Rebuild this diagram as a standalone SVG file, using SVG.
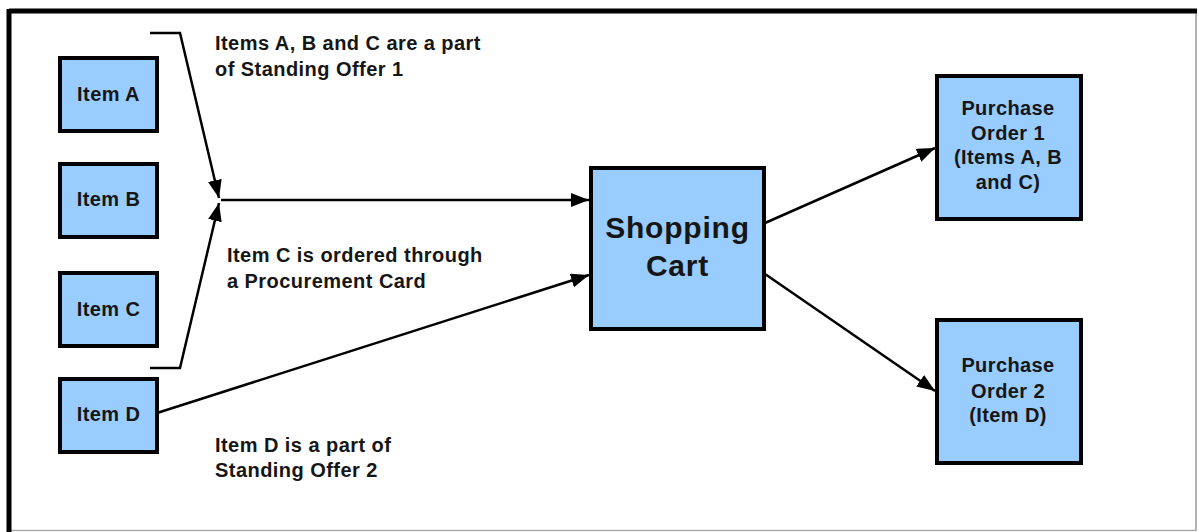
<svg xmlns="http://www.w3.org/2000/svg" width="1199" height="532" viewBox="0 0 1199 532">
<style>
.box{fill:#99ccff;stroke:#000;stroke-width:4}
.t{font-family:"Liberation Sans",Arial,sans-serif;font-weight:bold;fill:#161616;}
.nt{font-size:20px;text-anchor:middle;letter-spacing:0.4px}
.ann{font-size:20px;letter-spacing:0.45px}
.cn{fill:none;stroke:#000;stroke-width:2.5}
</style>
<defs>
<marker id="ah" markerUnits="userSpaceOnUse" markerWidth="20" markerHeight="16" refX="18" refY="7" orient="auto">
<path d="M0,0 L18,7 L0,14 Z" fill="#000"/>
</marker>
</defs>
<rect width="1199" height="532" fill="#fff"/>
<g id="frame">
<line x1="1196" y1="10" x2="1196" y2="531" stroke="#999" stroke-width="1.5"/>
<line x1="9" y1="530.5" x2="1196" y2="530.5" stroke="#aaa" stroke-width="1.5"/>
<line x1="9" y1="11" x2="1197" y2="11" stroke="#000" stroke-width="5"/>
<line x1="9" y1="9" x2="9" y2="532" stroke="#000" stroke-width="5"/>
</g>
<g id="connectors">
<path class="cn" d="M150,33 L180,33 L219,198" marker-end="url(#ah)"/>
<path class="cn" d="M150,368 L180,368 L219,203" marker-end="url(#ah)"/>
<path class="cn" d="M221,200 L589,200" marker-end="url(#ah)"/>
<path class="cn" d="M157,413 L589,275" marker-end="url(#ah)"/>
<path class="cn" d="M765,223 L935,148" marker-end="url(#ah)"/>
<path class="cn" d="M765,274 L935,391" marker-end="url(#ah)"/>
</g>
<g id="itemA"><rect class="box" x="60" y="58" width="97" height="73"/><text class="t nt" x="108.5" y="101">Item A</text></g>
<g id="itemB"><rect class="box" x="60" y="164" width="97" height="73"/><text class="t nt" x="108.5" y="206">Item B</text></g>
<g id="itemC"><rect class="box" x="60" y="273" width="97" height="73"/><text class="t nt" x="108.5" y="316">Item C</text></g>
<g id="itemD"><rect class="box" x="60" y="379" width="97" height="73"/><text class="t nt" x="108.5" y="421">Item D</text></g>
<g id="cart"><rect class="box" x="591" y="168" width="173" height="161"/>
<text class="t" x="677.5" y="238" font-size="30" text-anchor="middle" letter-spacing="0.8">Shopping</text>
<text class="t" x="677.5" y="276" font-size="30" text-anchor="middle" letter-spacing="0.8">Cart</text></g>
<g id="po1"><rect class="box" x="937" y="76" width="144" height="143"/>
<text class="t nt" x="1008" y="115">Purchase</text>
<text class="t nt" x="1008" y="140">Order 1</text>
<text class="t nt" x="1008" y="164">(Items A, B</text>
<text class="t nt" x="1008" y="189">and C)</text></g>
<g id="po2"><rect class="box" x="937" y="320" width="144" height="143"/>
<text class="t nt" x="1008" y="372">Purchase</text>
<text class="t nt" x="1008" y="398">Order 2</text>
<text class="t nt" x="1008" y="422">(Item D)</text></g>
<g id="labels">
<text class="t ann" x="215" y="50">Items A, B and C are a part</text>
<text class="t ann" x="215" y="76">of Standing Offer 1</text>
<text class="t ann" x="227" y="262">Item C is ordered through</text>
<text class="t ann" x="227" y="288">a Procurement Card</text>
<text class="t ann" x="215" y="452">Item D is a part of</text>
<text class="t ann" x="215" y="477">Standing Offer 2</text>
</g>
</svg>
